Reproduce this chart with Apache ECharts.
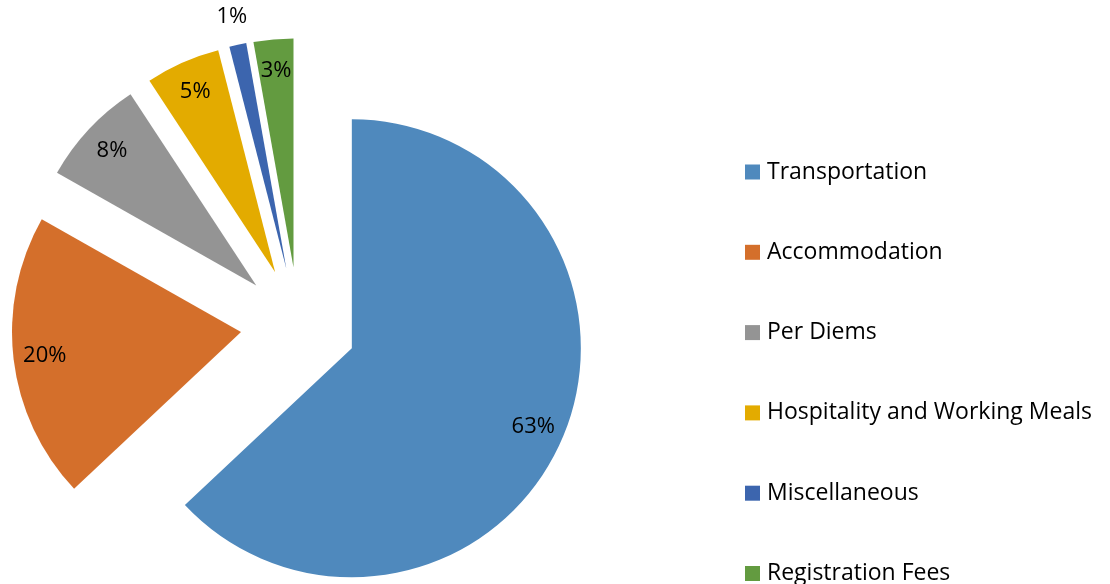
<!DOCTYPE html>
<html>
<head>
<meta charset="utf-8">
<script src="https://cdn.jsdelivr.net/npm/echarts@6/dist/echarts.min.js"></script>
<style>html,body{margin:0;padding:0;background:#fff}#c{width:1110px;height:584px}</style>
</head>
<body>
<div id="c"></div>
<script>
const categories = ['Transportation', 'Accommodation', 'Per Diems', 'Hospitality and Working Meals', 'Miscellaneous', 'Registration Fees'];
const values = [63.0, 20.2, 7.55, 5.25, 1.2, 2.8];
const colors = ['#4F89BD', '#D46F2B', '#949494', '#E3AB00', '#3C65AE', '#639B40'];

const FONT = 'Open Sans';
const CENTER = [298.6, 325.2];
const R = 229;
const OFFSET = 58;

const data = categories.map((n, i) => ({ name: n, value: values[i], selected: true, itemStyle: { color: colors[i] } }));
const ghost = categories.map((n, i) => ({ name: n, value: values[i], selected: true }));

const common = {
  type: 'pie',
  center: CENTER,
  startAngle: 90,
  clockwise: true,
  selectedMode: 'multiple',
  selectedOffset: OFFSET,
  avoidLabelOverlap: false,
  animation: false,
  labelLine: { show: false }
};

const chart = echarts.init(document.getElementById('c'), null, { renderer: 'canvas' });
chart.setOption({
  backgroundColor: '#fff',
  legend: {
    orient: 'vertical',
    left: 745,
    top: 160,
    height: 440,
    padding: 0,
    itemWidth: 15,
    itemHeight: 15,
    itemGap: 56.3,
    icon: 'rect',
    selectedMode: false,
    data: categories,
    textStyle: { fontFamily: FONT, fontSize: 23, lineHeight: 24, color: '#000', padding: [0, 0, 0, 2] }
  },
  series: [
    Object.assign({}, common, {
      name: 'main',
      radius: [0, R],
      data: data,
      label: { show: false },
      emphasis: { disabled: true },
      itemStyle: { borderWidth: 0 }
    }),
    Object.assign({}, common, {
      name: 'inner labels',
      radius: [R * 0.7, R],
      silent: true,
      data: ghost,
      itemStyle: { color: 'rgba(0,0,0,0)' },
      emphasis: { disabled: true },
      label: {
        show: true, position: 'inside', color: '#000', fontFamily: FONT, fontSize: 22,
        formatter: p => p.percent < 2 ? '' : Math.round(p.percent) + '%'
      }
    }),
    Object.assign({}, common, {
      name: 'outer labels',
      radius: [R, R * 1.22],
      silent: true,
      data: ghost,
      itemStyle: { color: 'rgba(0,0,0,0)' },
      emphasis: { disabled: true },
      label: {
        show: true, position: 'inside', color: '#000', fontFamily: FONT, fontSize: 22,
        formatter: p => p.percent < 2 ? Math.round(p.percent) + '%' : ''
      }
    })
  ]
});
</script>
</body>
</html>
